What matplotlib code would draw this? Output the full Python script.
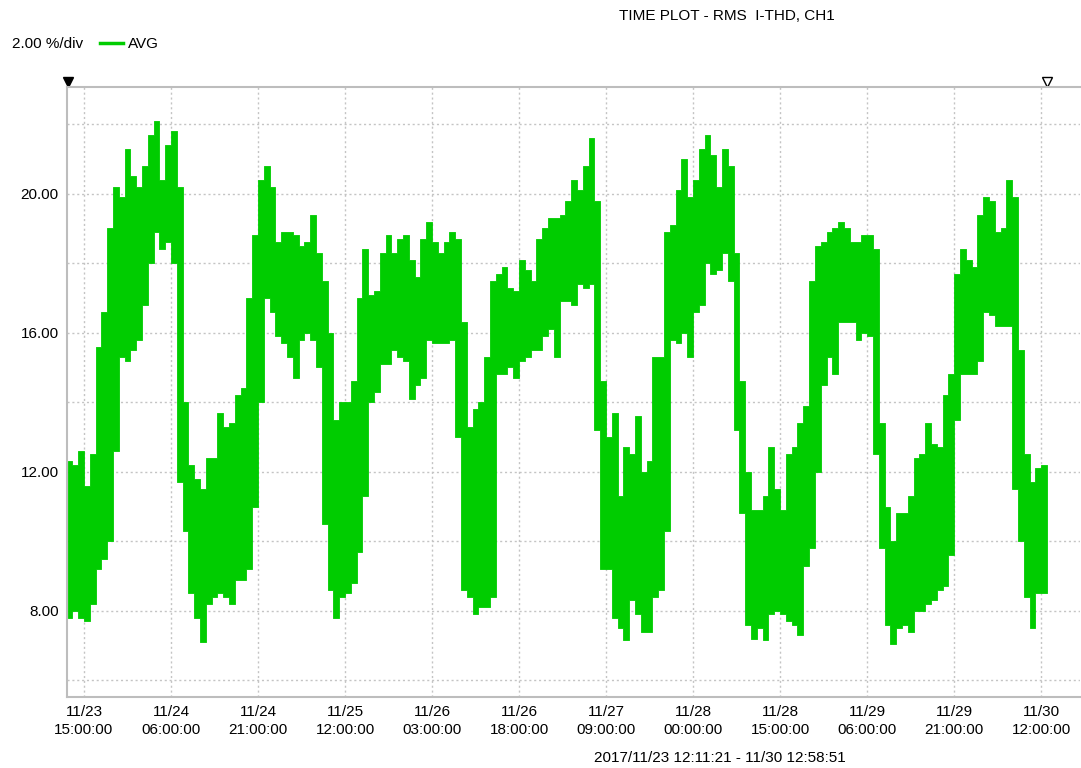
import numpy as np
import matplotlib
matplotlib.use("Agg")
from matplotlib import pyplot as plt
from matplotlib.lines import Line2D

plt.rcParams['font.family'] = ['Liberation Sans', 'DejaVu Sans']
plt.rcParams['font.size'] = 11

# hours since 2017/11/23 00:00, one bin per hour
start_h = 12.19   # 12:11:21
end_h = 180.98    # 11/30 12:58:51

# per-hour min / max of the AVG trace (%)
thd_high = [12.3, 12.2, 12.6, 11.6, 12.5, 15.6, 16.6, 19.0, 20.2, 19.9,
            21.3, 20.5, 20.2, 20.8, 21.7, 22.1, 20.4, 21.4, 21.8, 20.2,
            14.0, 12.2, 11.8, 11.5, 12.4, 12.4, 13.7, 13.3, 13.4, 14.2,
            14.4, 17.0, 18.8, 20.4, 20.8, 20.2, 18.6, 18.9, 18.9, 18.8,
            18.5, 18.6, 19.4, 18.3, 17.5, 16.0, 13.5, 14.0, 14.0, 14.6,
            17.0, 18.4, 17.1, 17.2, 18.3, 18.8, 18.3, 18.7, 18.8, 18.1,
            17.6, 18.7, 19.2, 18.6, 18.3, 18.6, 18.9, 18.7, 16.3, 13.3,
            13.8, 14.0, 15.3, 17.5, 17.7, 17.9, 17.3, 17.2, 18.1, 17.8,
            17.5, 18.7, 19.0, 19.3, 19.3, 19.4, 19.8, 20.4, 20.1, 20.8,
            21.6, 19.8, 14.6, 13.0, 13.7, 11.3, 12.7, 12.5, 13.6, 12.0,
            12.3, 15.3, 15.3, 18.9, 19.1, 20.1, 21.0, 19.9, 20.4, 21.3,
            21.7, 21.1, 20.2, 21.3, 20.8, 18.3, 14.6, 12.0, 10.9, 10.9,
            11.3, 12.7, 11.5, 10.9, 12.5, 12.7, 13.4, 13.9, 17.5, 18.5,
            18.6, 18.9, 19.0, 19.2, 19.0, 18.6, 18.6, 18.8, 18.8, 18.4,
            13.4, 11.0, 10.0, 10.8, 10.8, 11.3, 12.4, 12.5, 13.4, 12.8,
            12.7, 14.2, 14.8, 17.7, 18.4, 18.1, 17.9, 19.4, 19.9, 19.8,
            18.9, 19.0, 20.4, 19.9, 15.5, 12.5, 11.7, 12.1, 12.2]

thd_low = [7.8, 8.0, 7.8, 7.7, 8.2, 9.2, 9.5, 10.0, 12.6, 15.3,
           15.2, 15.5, 15.8, 16.8, 18.0, 18.9, 18.4, 18.6, 18.0, 11.7,
           10.3, 8.5, 7.8, 7.1, 8.2, 8.4, 8.5, 8.4, 8.2, 8.9,
           8.9, 9.2, 11.0, 14.0, 17.0, 16.6, 15.9, 15.7, 15.3, 14.7,
           15.8, 16.0, 15.8, 15.0, 10.5, 8.6, 7.8, 8.4, 8.5, 8.8,
           9.7, 11.3, 14.0, 14.3, 15.1, 15.1, 15.5, 15.3, 15.2, 14.1,
           14.5, 14.7, 15.8, 15.7, 15.7, 15.7, 15.8, 13.0, 8.6, 8.4,
           7.9, 8.1, 8.1, 8.4, 14.8, 14.8, 15.0, 14.7, 15.2, 15.3,
           15.5, 15.5, 15.9, 16.1, 15.3, 16.9, 16.9, 16.8, 17.4, 17.3,
           17.4, 13.2, 9.2, 9.2, 7.8, 7.5, 7.15, 8.3, 7.9, 7.4,
           7.4, 8.4, 8.6, 10.3, 15.8, 15.7, 16.0, 15.3, 16.6, 16.8,
           18.0, 17.7, 17.8, 18.3, 17.5, 13.2, 10.8, 7.6, 7.2, 7.5,
           7.15, 7.9, 8.0, 7.9, 7.7, 7.6, 7.3, 9.3, 9.8, 12.0,
           14.5, 15.3, 14.8, 16.3, 16.3, 16.3, 15.8, 16.0, 15.9, 12.5,
           9.8, 7.6, 7.05, 7.5, 7.6, 7.4, 8.0, 8.0, 8.2, 8.3,
           8.6, 8.7, 9.6, 13.5, 14.8, 14.8, 14.8, 15.2, 16.6, 16.5,
           16.2, 16.2, 16.2, 11.5, 10.0, 8.4, 7.5, 8.5, 8.5]

# bin edges: 12:11:21, 13:00, 14:00 ... 180:00, 180:58:51
edges = np.concatenate([[start_h], np.arange(13, 181), [end_h]])

tick_hours = np.arange(15, 181, 15)
tick_labels = ["11/23\n15:00:00", "11/24\n06:00:00", "11/24\n21:00:00",
               "11/25\n12:00:00", "11/26\n03:00:00", "11/26\n18:00:00",
               "11/27\n09:00:00", "11/28\n00:00:00", "11/28\n15:00:00",
               "11/29\n06:00:00", "11/29\n21:00:00", "11/30\n12:00:00"]

green = '#00cc00'
grid_col = '#c4c4c4'

fig = plt.figure(figsize=(10.81, 7.68), dpi=100)
ax = fig.add_axes([67/1081, 1-697/768, (1080-67)/1081, (697-87)/768])

hi = np.append(thd_high, thd_high[-1])
lo = np.append(thd_low, thd_low[-1])
ax.fill_between(edges, lo, hi, step='post', color=green, lw=0.6, zorder=3)

ax.set_xlim(12.07, 186.7)
ax.set_ylim(5.52, 23.07)

ax.set_xticks(tick_hours)
ax.set_xticklabels(tick_labels, linespacing=1.3)
ax.set_yticks(np.arange(6, 23, 2), minor=True)
ax.set_yticks([8, 12, 16, 20])
ax.set_yticklabels(["8.00", "12.00", "16.00", "20.00"])
ax.tick_params(axis='both', which='both', length=0)
ax.tick_params(axis='x', pad=6)
ax.tick_params(axis='y', pad=6)

ax.grid(True, which='both', axis='y', color=grid_col, ls=(0, (1.5, 2)), lw=1)
ax.grid(True, which='major', axis='x', color=grid_col, ls=(0, (1.5, 2)), lw=1)

for s in ['left', 'bottom', 'top']:
    ax.spines[s].set_color('#bdbdbd')
    ax.spines[s].set_linewidth(1.5)
ax.spines['right'].set_visible(False)

# start / end cursors above the plot
xt = ax.get_xaxis_transform()
ax.plot([start_h], [1.009], marker='v', ms=7, color='black', transform=xt, clip_on=False)
ax.plot([end_h], [1.009], marker='v', ms=7, mfc='white', mec='black', mew=1,
        transform=xt, clip_on=False)

# header
fig.text(619/1081, 1-16/768, "TIME PLOT - RMS  I-THD, CH1", va='center')
fig.text(12/1081, 1-44/768, "2.00 %/div", va='center')
fig.add_artist(Line2D([100/1081, 123/1081], [1-43/768, 1-43/768], color=green, lw=2.5))
fig.text(128/1081, 1-44/768, "AVG", va='center')

# footer
fig.text(594/1081, 1-758/768, "2017/11/23 12:11:21 - 11/30 12:58:51", va='center')

plt.savefig("out.png", dpi=100)
